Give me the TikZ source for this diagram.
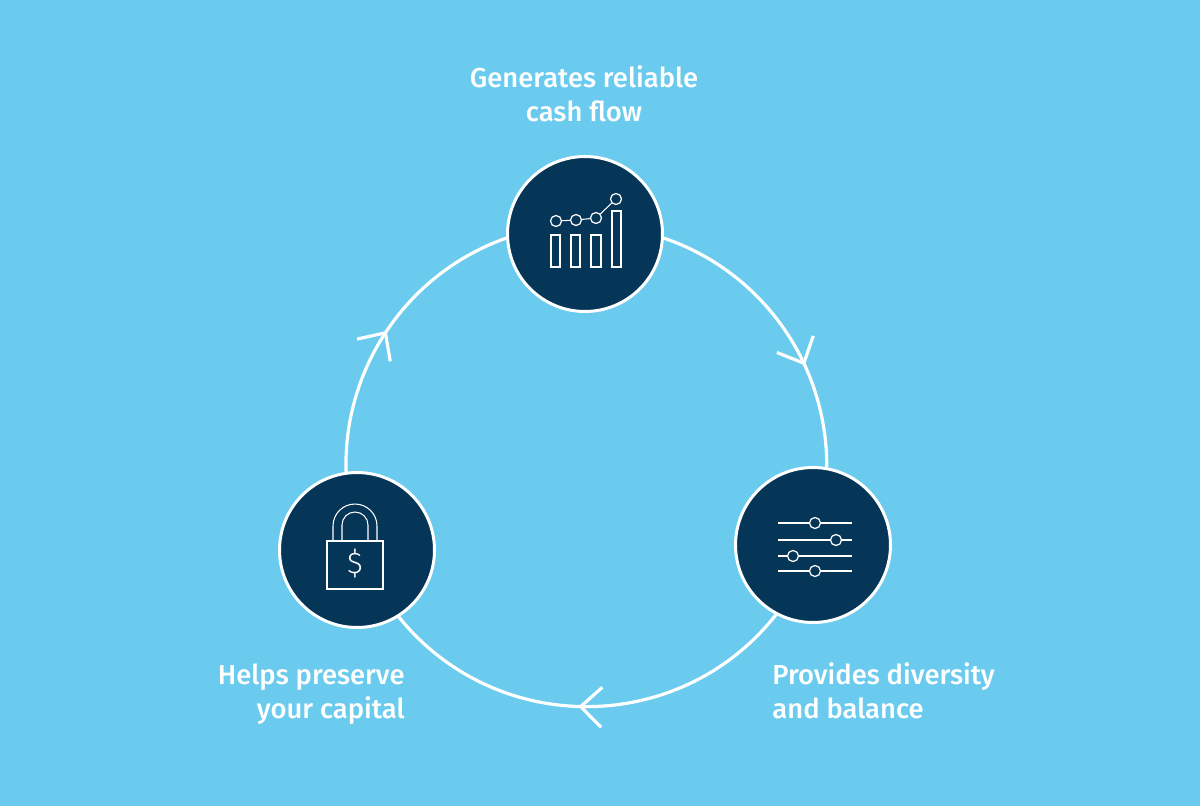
\documentclass[tikz,border=0pt]{standalone}
\usepackage{fontspec}
\setmainfont{Fira Sans Medium}
\newfontfamily\thinfont{Fira Sans Light}
\usepackage{xcolor}
\usetikzlibrary{arrows.meta, backgrounds, decorations.markings}
\definecolor{skyback}{HTML}{6BCBEF}
\definecolor{navydisc}{HTML}{053557}

\begin{document}
\begin{tikzpicture}[
  x=0.02cm, y=-0.02cm,
  disc/.style={circle, draw=white, fill=navydisc, line width=1.7pt, minimum size=3.1cm, inner sep=0pt},
  ringarc/.style={draw=white, line width=1.8pt, postaction={decorate},
    decoration={markings, mark=at position #1 with {\arrow{Straight Barb[length=0.42cm, width=0.8cm]}}}},
  caption/.style={font=\fontsize{15.6pt}{19.6pt}\selectfont, text=white, inner sep=0pt},
  icon/.style={draw=white, line width=0.6pt},
  slider/.style={draw=white, line width=0.75pt},
  knob/.style={circle, draw=white, fill=navydisc, line width=0.7pt, minimum size=0.22cm, inner sep=0pt}
]
  % Discs
  \node[disc] (cash) at (585, 234) {};
  \node[disc] (mix) at (813, 545) {};
  \node[disc] (lock) at (357, 550) {};

  % Ring, behind the discs
  \begin{scope}[on background layer]
    \fill[skyback] (0, 0) rectangle (1200, 806);
    \draw[ringarc=0.65] (cash.-3) to[bend left=35.85, looseness=0.941] (mix.80);
    \draw[ringarc=0.522] (mix.242) to[bend left=51.4, looseness=1.049] (lock.-58.5);
    \draw[ringarc=0.492] (lock.98.7) to[bend left=36.05, looseness=0.942] (cash.183);
  \end{scope}

  % Labels
  \node[caption, align=center] (cashtext) at (584, 93.5) {Generates reliable\\cash flow};
  \node[caption, align=left, anchor=west] (mixtext) at (772, 691) {Provides diversity\\and balance};
  \node[caption, align=right, anchor=east] (locktext) at (405, 694) {Helps preserve\\your capital};

  % Bar chart icon
  \draw[icon] (551, 235) rectangle (560, 267);
  \draw[icon] (571, 235) rectangle (580, 267);
  \draw[icon] (591, 235) rectangle (601, 267);
  \draw[icon] (612, 211) rectangle (621, 267);
  \node[knob] (dot1) at (556, 221) {};
  \node[knob] (dot2) at (576, 220) {};
  \node[knob] (dot3) at (596, 218) {};
  \node[knob] (dot4) at (616, 199) {};
  \draw[icon] (dot1) -- (dot2);
  \draw[icon] (dot2) -- (dot3);
  \draw[icon] (dot3) -- (dot4);

  % Slider icon
  \draw[slider] (778, 523) -- (852, 523);
  \draw[slider] (778, 540) -- (852, 540);
  \draw[slider] (778, 556) -- (852, 556);
  \draw[slider] (778, 571) -- (852, 571);
  \node[knob] (knob1) at (815, 523) {};
  \node[knob] (knob2) at (836, 540) {};
  \node[knob] (knob3) at (793, 556) {};
  \node[knob] (knob4) at (815, 571) {};

  % Padlock icon
  \draw[icon] (327, 541) rectangle (383, 589);
  \draw[icon] (333, 541) -- (333, 526) arc[start angle=180, end angle=360, radius=22] -- (377, 541);
  \draw[icon] (342, 541) -- (342, 525) arc[start angle=180, end angle=360, radius=13] -- (368, 541);
  \node[font=\thinfont\fontsize{17pt}{17pt}\selectfont, text=white, inner sep=0pt] (dollar) at (355, 564) {\$};
\end{tikzpicture}
\end{document}
